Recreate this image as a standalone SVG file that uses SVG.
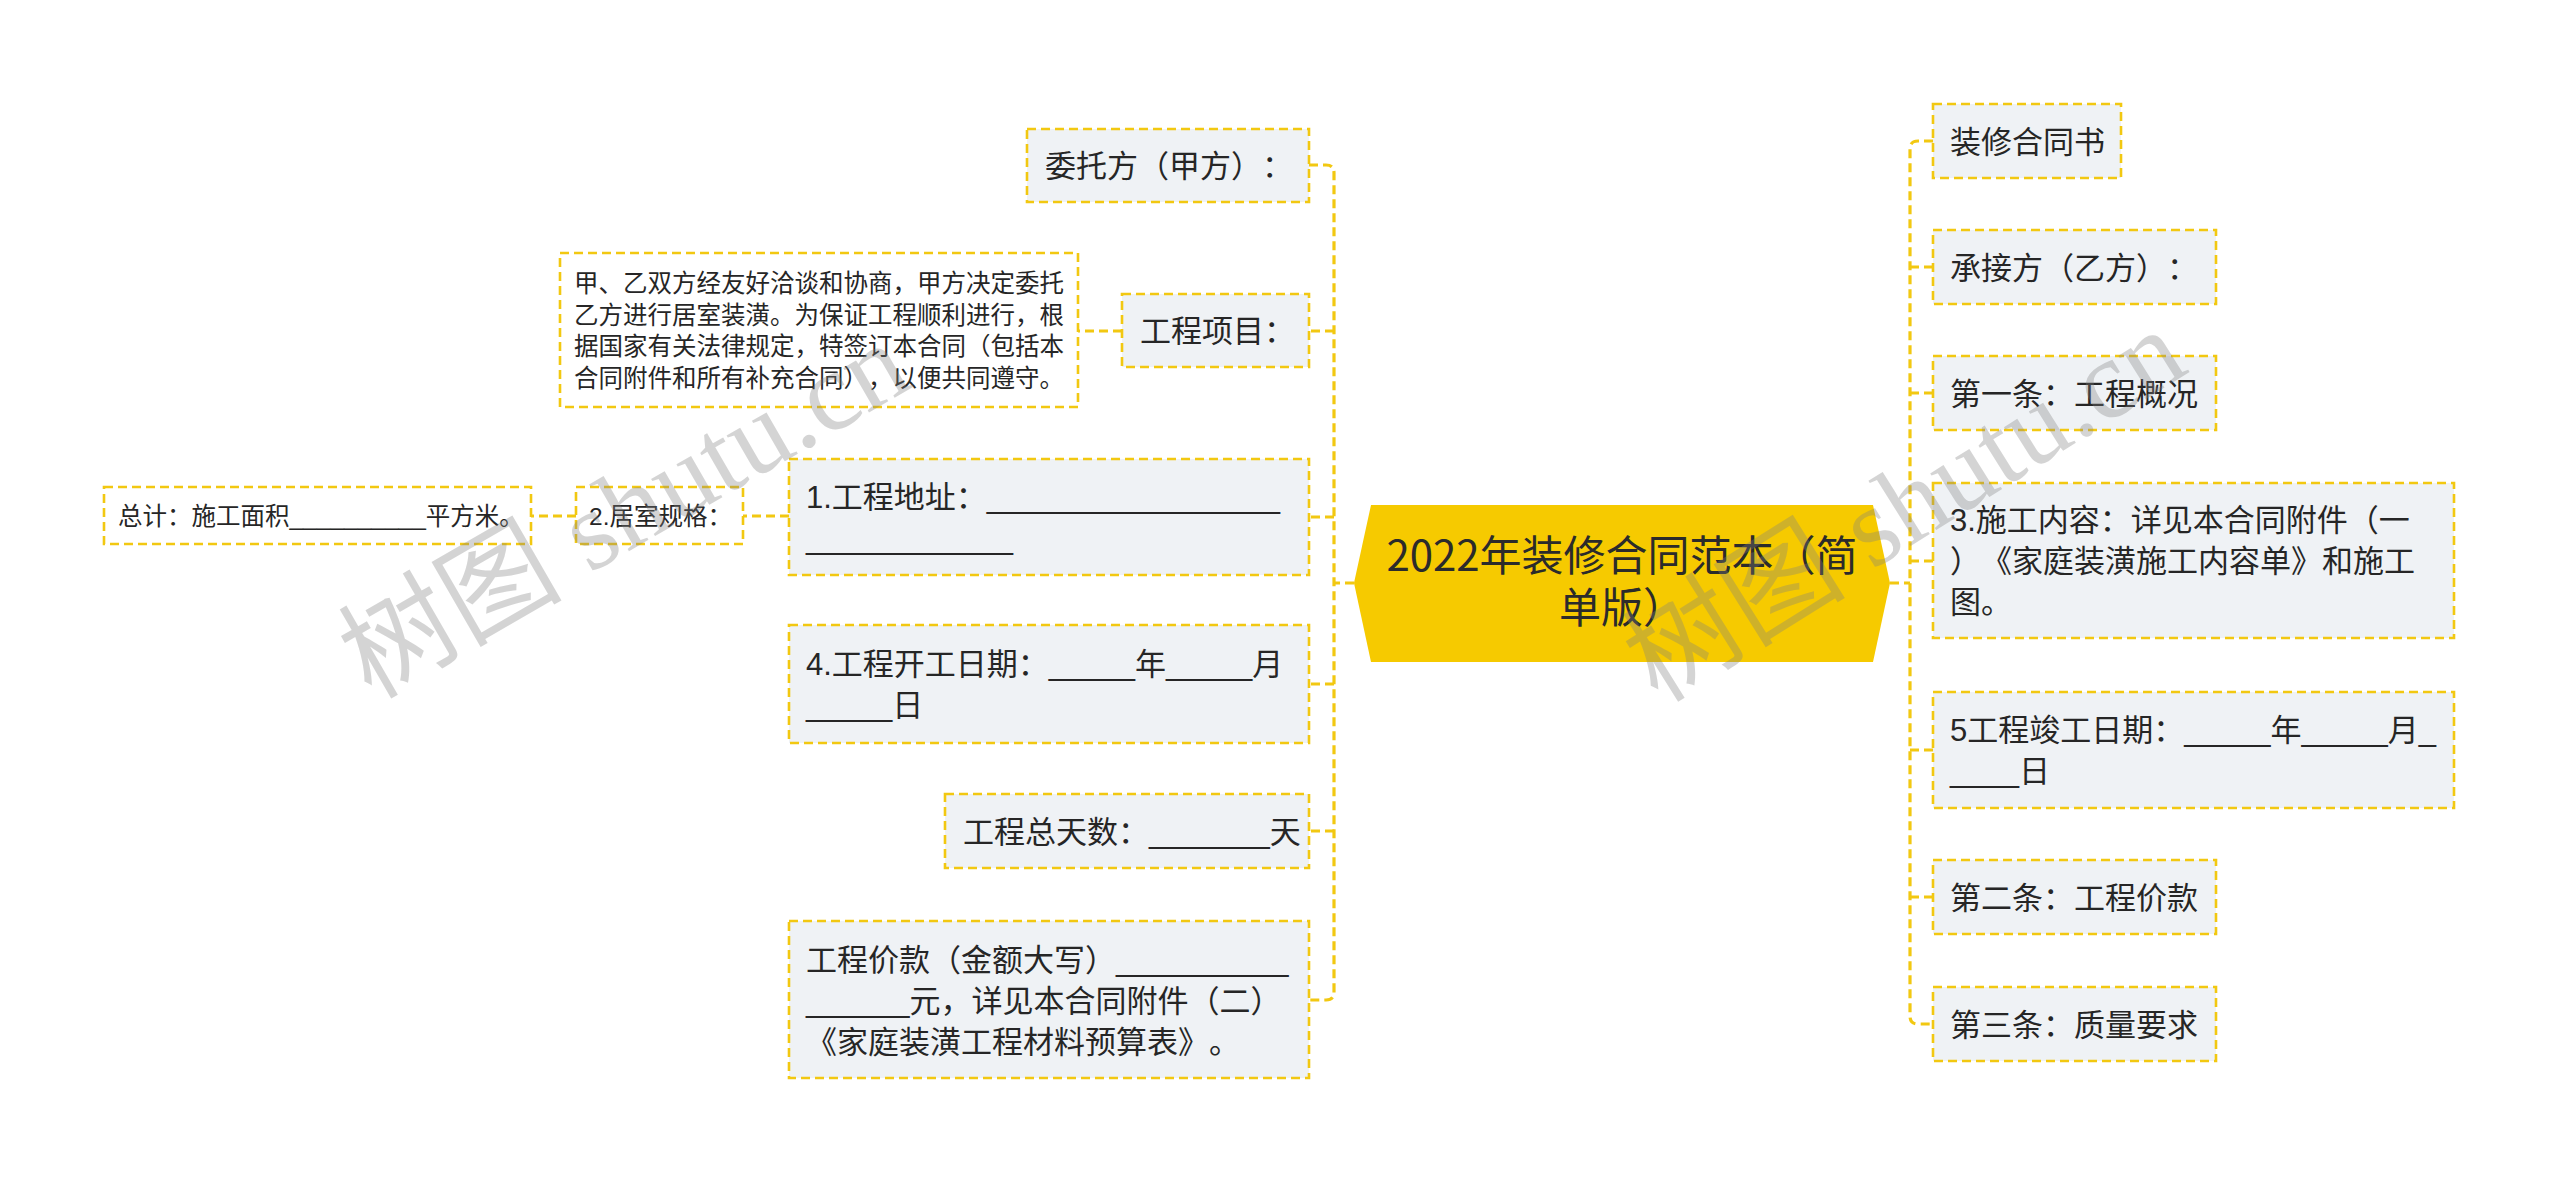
<svg xmlns="http://www.w3.org/2000/svg" width="2560" height="1183" viewBox="0 0 2560 1183">
<style>
.box{fill:#EFF2F5;stroke:#F2C811;stroke-width:2.6;stroke-dasharray:9 5}
.wbox{fill:#FFFFFF;stroke:#F2C811;stroke-width:2.6;stroke-dasharray:9 5}
.conn{fill:none;stroke:#F2C811;stroke-width:3.2;stroke-dasharray:9 5}
.t{font-family:"Liberation Sans","Noto Sans CJK SC",sans-serif;font-size:31px;fill:#262626;text-spacing-trim:space-all}
.s{font-size:24.5px}
.c{font-family:"Noto Sans CJK SC","Noto Sans",sans-serif;font-size:42px;fill:#2b2b2b;text-anchor:middle;text-spacing-trim:space-all}
.wm{font-family:"Liberation Serif","Noto Sans CJK SC",serif;font-size:112px;fill:#808080;opacity:0.33}
</style>
<rect width="2560" height="1183" fill="#FFFFFF"/>
<g id="connectors">
<path class="conn" d="M1309 165 H1326 Q1334 165 1334 173 V992 Q1334 1000 1326 1000 H1309"/>
<path class="conn" d="M1334 331 H1309 M1334 517 H1309 M1334 684 H1309 M1334 831 H1309 M1354 583 H1334"/>
<path class="conn" d="M1122 331 H1078"/>
<path class="conn" d="M789 516 H743"/>
<path class="conn" d="M576 516 H531"/>
<path class="conn" d="M1933 141 H1918 Q1910 141 1910 149 V1016 Q1910 1024 1918 1024 H1933"/>
<path class="conn" d="M1910 267 H1933 M1910 393 H1933 M1910 561 H1933 M1910 750 H1933 M1910 897 H1933 M1890 583 H1910"/>
</g>
<g id="center">
<polygon points="1371,505 1873,505 1890,583 1873,662 1371,662 1354,583" fill="#F6CA00"/>
<text class="c"><tspan x="1622" y="571">2022年装修合同范本（简</tspan><tspan x="1622" y="623">单版）</tspan></text>
</g>
<g id="n-weituo">
<rect class="box" x="1027" y="129" width="282" height="73"/>
<text class="t" x="1045" y="177">委托方（甲方）：</text>
</g>
<g id="n-xiangmu">
<rect class="box" x="1122" y="294" width="187" height="73"/>
<text class="t" x="1140" y="342">工程项目：</text>
</g>
<g id="n-para">
<rect class="wbox" x="560" y="253" width="518" height="154"/>
<text class="t s"><tspan x="574" y="292">甲、乙双方经友好洽谈和协商，甲方决定委托</tspan><tspan x="574" y="324">乙方进行居室装潢。为保证工程顺利进行，根</tspan><tspan x="574" y="355">据国家有关法律规定，特签订本合同（包括本</tspan><tspan x="574" y="387">合同附件和所有补充合同），以便共同遵守。</tspan></text>
</g>
<g id="n-dizhi">
<rect class="box" x="789" y="459" width="520" height="116"/>
<text class="t"><tspan x="806" y="508">1.工程地址：_________________</tspan><tspan x="806" y="549">____________</tspan></text>
</g>
<g id="n-jushi">
<rect class="wbox" x="576" y="487" width="167" height="57"/>
<text class="t s" x="589" y="525">2.居室规格：</text>
</g>
<g id="n-zongji">
<rect class="wbox" x="104" y="487" width="427" height="57"/>
<text class="t s" x="118" y="525">总计：施工面积__________平方米。</text>
</g>
<g id="n-kaigong">
<rect class="box" x="789" y="625" width="520" height="118"/>
<text class="t"><tspan x="806" y="675">4.工程开工日期：_____年_____月</tspan><tspan x="806" y="716">_____日</tspan></text>
</g>
<g id="n-tianshu">
<rect class="box" x="945" y="794" width="364" height="74"/>
<text class="t" x="963" y="843">工程总天数：_______天</text>
</g>
<g id="n-jiakuan">
<rect class="box" x="789" y="921" width="520" height="157"/>
<text class="t"><tspan x="806" y="971">工程价款（金额大写）__________</tspan><tspan x="806" y="1012">______元，详见本合同附件（二）</tspan><tspan x="806" y="1053">《家庭装潢工程材料预算表》。</tspan></text>
</g>
<g id="n-hetongshu">
<rect class="box" x="1933" y="104" width="188" height="74"/>
<text class="t" x="1950" y="153">装修合同书</text>
</g>
<g id="n-chengjie">
<rect class="box" x="1933" y="230" width="283" height="74"/>
<text class="t" x="1950" y="279">承接方（乙方）：</text>
</g>
<g id="n-diyi">
<rect class="box" x="1933" y="356" width="283" height="74"/>
<text class="t" x="1950" y="405">第一条：工程概况</text>
</g>
<g id="n-neirong">
<rect class="box" x="1933" y="483" width="521" height="155"/>
<text class="t"><tspan x="1950" y="531">3.施工内容：详见本合同附件（一</tspan><tspan x="1950" y="572">）《家庭装潢施工内容单》和施工</tspan><tspan x="1950" y="613">图。</tspan></text>
</g>
<g id="n-jungong">
<rect class="box" x="1933" y="692" width="521" height="116"/>
<text class="t"><tspan x="1950" y="741">5工程竣工日期：_____年_____月_</tspan><tspan x="1950" y="782">____日</tspan></text>
</g>
<g id="n-dier">
<rect class="box" x="1933" y="860" width="283" height="74"/>
<text class="t" x="1950" y="909">第二条：工程价款</text>
</g>
<g id="n-disan">
<rect class="box" x="1933" y="987" width="283" height="74"/>
<text class="t" x="1950" y="1036">第三条：质量要求</text>
</g>
<g id="watermark">
<text class="wm" transform="translate(371,700) rotate(-30)">树图 shutu.cn</text>
<text class="wm" transform="translate(1658,704) rotate(-32)">树图 shutu.cn</text>
</g>
</svg>
